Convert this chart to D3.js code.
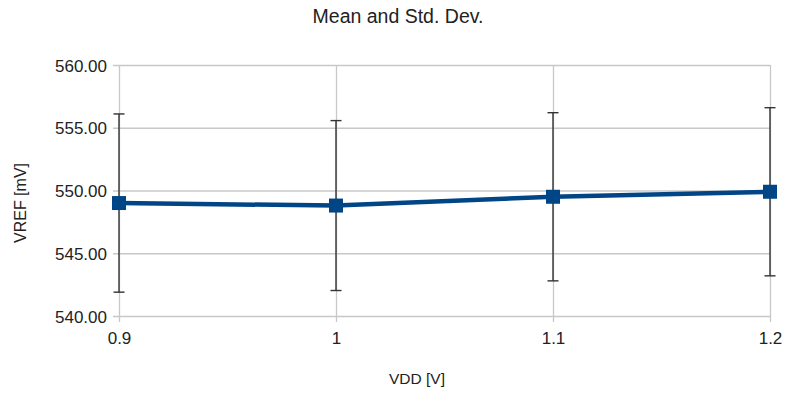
<!DOCTYPE html>
<html>
<head>
<meta charset="utf-8">
<script src="https://cdn.jsdelivr.net/npm/d3@7"></script>
<style>
  html, body { margin: 0; padding: 0; background: #fff; }
  svg { display: block; font-family: "Liberation Sans", Arial, sans-serif; }
</style>
</head>
<body>
<svg id="chart" width="788" height="394"></svg>
<script>
// Supply voltage points and measured VREF statistics
const vdd = [0.9, 1.0, 1.1, 1.2];
const xTickLabels = ["0.9", "1", "1.1", "1.2"];
const meanVref = [549.0, 548.8, 549.5, 549.9];
const stdVref = [7.1, 6.77, 6.7, 6.7];
const yTicks = [540, 545, 550, 555, 560];

const svg = d3.select("#chart");
const margin = { left: 119, right: 18, top: 65, bottom: 78 };
const W = 788, H = 394;

const x = d3.scaleLinear().domain([0.9, 1.2]).range([margin.left, W - margin.right]);
const y = d3.scaleLinear().domain([540, 560]).range([H - margin.bottom, margin.top]);

const data = vdd.map((v, i) => ({ v, label: xTickLabels[i], mean: meanVref[i], sd: stdVref[i] }));

// Horizontal grid lines with short left ticks
const yAxis = d3.axisLeft(y)
  .tickValues(yTicks)
  .tickSize(-(W - margin.left - margin.right))
  .tickSizeOuter(0)
  .tickPadding(12)
  .tickFormat(d3.format(".2f"));
const gy = svg.append("g")
  .attr("transform", `translate(${margin.left},0)`)
  .call(yAxis);
gy.select(".domain").remove();
gy.selectAll(".tick line")
  .attr("x1", -6)
  .attr("stroke", "#c8c8c8")
  .attr("stroke-width", 1.3);
gy.selectAll(".tick text")
  .attr("fill", "#222")
  .style("font-size", "17px")
  .attr("dy", "0.36em");

// Vertical grid lines with short bottom ticks
const xAxis = d3.axisBottom(x)
  .tickValues(vdd)
  .tickSize(-(H - margin.top - margin.bottom))
  .tickSizeOuter(0)
  .tickPadding(16)
  .tickFormat((d, i) => xTickLabels[i]);
const gx = svg.append("g")
  .attr("transform", `translate(0,${H - margin.bottom})`)
  .call(xAxis);
gx.select(".domain").remove();
gx.selectAll(".tick line")
  .attr("y1", 6)
  .attr("stroke", "#c8c8c8")
  .attr("stroke-width", 1.3);
gx.selectAll(".tick text")
  .attr("fill", "#222")
  .style("font-size", "17px");

// Error bars: mean ± one standard deviation
const eb = svg.append("g").attr("class", "errorbars");
data.forEach(d => {
  const top = y(d.mean + d.sd), bot = y(d.mean - d.sd), cx = x(d.v);
  eb.append("line").attr("x1", cx).attr("x2", cx).attr("y1", top).attr("y2", bot)
    .attr("stroke", "#333").attr("stroke-width", 1.4);
  [top, bot].forEach(yy => eb.append("line")
    .attr("x1", cx - 5.5).attr("x2", cx + 5.5).attr("y1", yy).attr("y2", yy)
    .attr("stroke", "#333").attr("stroke-width", 1.4));
});

// Mean line
const line = d3.line().x(d => x(d.v)).y(d => y(d.mean));
svg.append("path")
  .datum(data)
  .attr("d", line)
  .attr("fill", "none")
  .attr("stroke", "#004586")
  .attr("stroke-width", 4.5);

// Square markers
svg.append("g").selectAll("rect")
  .data(data)
  .join("rect")
  .attr("x", d => x(d.v) - 7)
  .attr("y", d => y(d.mean) - 7)
  .attr("width", 14)
  .attr("height", 14)
  .attr("fill", "#004586");

// Title and axis titles
svg.append("text")
  .attr("x", 398).attr("y", 23)
  .attr("text-anchor", "middle")
  .attr("fill", "#222")
  .style("font-size", "19.5px")
  .text("Mean and Std. Dev.");

svg.append("text")
  .attr("x", 417).attr("y", 384)
  .attr("text-anchor", "middle")
  .attr("fill", "#222")
  .style("font-size", "15.5px")
  .text("VDD [V]");

svg.append("text")
  .attr("transform", "translate(26,203) rotate(-90)")
  .attr("text-anchor", "middle")
  .attr("fill", "#222")
  .style("font-size", "16px")
  .text("VREF [mV]");
</script>
</body>
</html>
